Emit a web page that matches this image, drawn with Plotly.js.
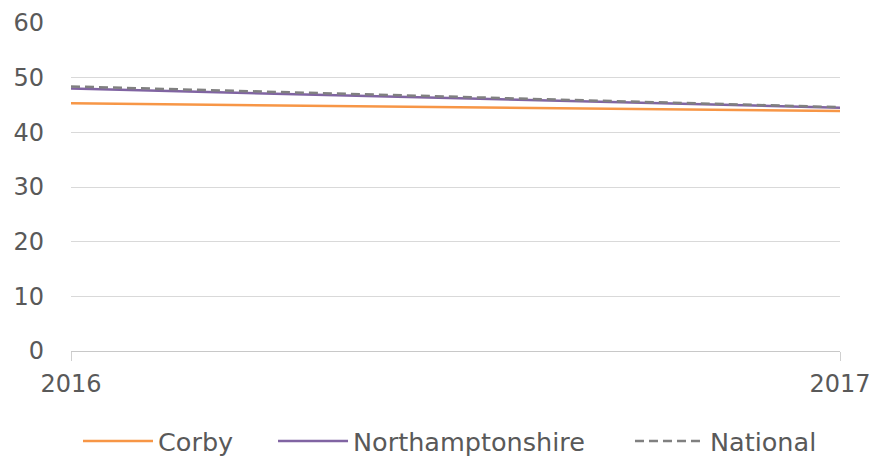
<!DOCTYPE html>
<html><head><meta charset="utf-8">
<script src="https://cdn.plot.ly/plotly-3.0.1.min.js"></script>
<style>body{margin:0;background:#fff}#c{width:873px;height:459px}</style>
</head><body><div id="c"></div>
<script>
var years = [2016, 2017];
var corby = [45.3, 43.9];
var northants = [48.0, 44.5];
var national = [48.4, 44.6];
var yTicks = [0, 10, 20, 30, 40, 50, 60];

var traces = [
  {x: years, y: corby, name: 'Corby', mode: 'lines', line: {color: '#F79646', width: 2.5}, legend: 'legend'},
  {x: years, y: northants, name: 'Northamptonshire', mode: 'lines', line: {color: '#8064A2', width: 2.5}, legend: 'legend2'},
  {x: years, y: national, name: 'National', mode: 'lines', line: {color: '#808080', width: 2.5, dash: '9px,5px'}, legend: 'legend3'}
];
function leg(xpos) {
  return {orientation: 'h', x: xpos, xanchor: 'left', y: -0.204, yanchor: 'top', itemwidth: 70,
    font: {size: 25.5, color: '#595959'}, bgcolor: 'rgba(0,0,0,0)'};
}
var layout = {
  width: 873, height: 459,
  margin: {l: 71, r: 33, t: 23, b: 108, autoexpand: false},
  paper_bgcolor: '#fff', plot_bgcolor: '#fff',
  font: {family: 'DejaVu Sans', size: 24, color: '#595959'},
  showlegend: true,
  legend: leg(0.0091),
  legend2: leg(0.2627),
  legend3: leg(0.7269),
  xaxis: {range: [2016, 2017], tickvals: years, ticktext: years.map(String), showgrid: false, zeroline: false,
    showline: false, ticks: 'outside', ticklen: 9, tickcolor: '#d0d0d0', tickwidth: 1, ticklabelstandoff: 2},
  yaxis: {range: [0, 60], tickvals: yTicks, showgrid: true, gridcolor: '#d9d9d9', gridwidth: 1, zeroline: true, zerolinecolor: '#c8c8c8',
    showline: false, ticks: '', ticklabelstandoff: 26}
};
Plotly.newPlot('c', traces, layout, {displayModeBar: false, staticPlot: true});
</script></body></html>
